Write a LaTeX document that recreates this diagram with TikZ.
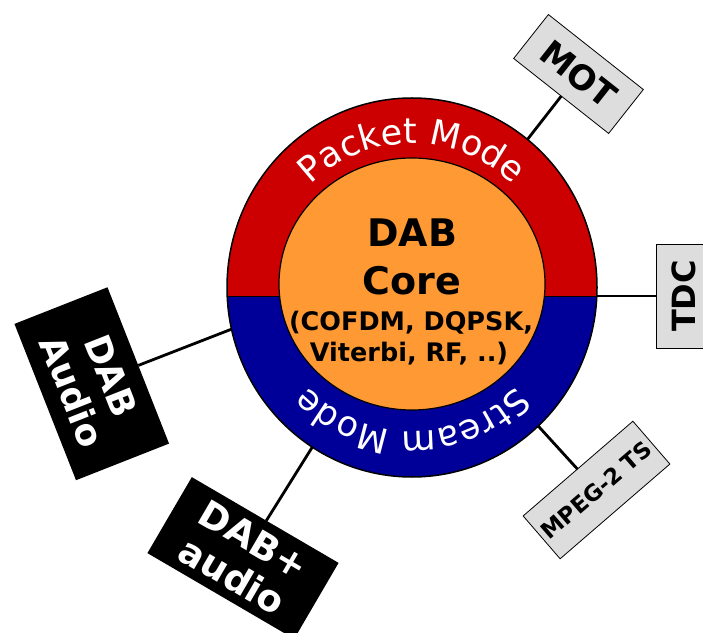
\documentclass[tikz,border=0pt]{standalone}
\usepackage{fontspec}
\setmainfont{DejaVu Sans}
\usetikzlibrary{shapes.geometric,decorations.text}
\definecolor{dabred}{HTML}{CC0000}
\definecolor{dabblue}{HTML}{000099}
\definecolor{dabor}{HTML}{FF9933}
\definecolor{boxgray}{HTML}{DDDDDD}
\begin{document}
\begin{tikzpicture}[x=1pt,y=1pt,
  graybox/.style={draw=black, line width=0.8pt, fill=boxgray, inner sep=0pt, outer sep=0pt, font=\bfseries\fontsize{34}{34}\selectfont},
  blackbox/.style={fill=black, text=white, inner sep=0pt, outer sep=0pt, align=center},
  conn/.style={draw=black, line width=2.8pt},
  coreline/.style={anchor=base, inner sep=0pt, font=\bfseries}]
\useasboundingbox (0,0) rectangle (703,632);
\clip (0,0) rectangle (703,632);
% ring fills
\fill[dabblue] (412,344.5) ellipse [x radius=185, y radius=189.5];
\begin{scope}
  \clip (0,336) rectangle (703,632);
  \fill[dabred] (412,344.5) ellipse [x radius=185, y radius=189.5];
\end{scope}
\draw[line width=0.8pt] (227.2,336) -- (596.8,336);
\node[ellipse, draw=black, line width=1.5pt, minimum width=370, minimum height=379, inner sep=0pt, outer sep=0pt] (ring) at (412,344.5) {};
\node[ellipse, draw=black, fill=dabor, line width=1.2pt, minimum width=266, minimum height=252, inner sep=0pt, outer sep=0pt] (core) at (412,348) {};
% arc texts
\path[decorate, decoration={text along path, text color=white, text align=center,
  text={|\fontsize{35}{35}\selectfont|Packet Mode}}]
  (412,344.5) ++(170:144) arc[start angle=170, end angle=10, radius=144];
\path[decorate, decoration={text along path, text color=white, text align=center,
  text={|\fontsize{35}{35}\selectfont|Stream Mode}}]
  (412,344.5) ++(-10:144) arc[start angle=-10, end angle=-170, radius=144];
% core text
\node[coreline, font=\bfseries\fontsize{38}{38}\selectfont] (l1) at (412,385) {DAB};
\node[coreline, font=\bfseries\fontsize{38}{38}\selectfont] (l2) at (412,337) {Core};
\node[coreline, font=\bfseries\fontsize{25.5}{25.5}\selectfont] (l3) at (411,301) {(COFDM, DQPSK,};
\node[coreline, font=\bfseries\fontsize{25.5}{25.5}\selectfont] (l4) at (409,270) {Viterbi, RF, ..)};
% boxes
\node[graybox, rotate=-38.3, minimum width=121, minimum height=56] (mot) at (578.5,558) {MOT};
\node[graybox, rotate=90, minimum width=104, minimum height=56, font=\bfseries\fontsize{32}{32}\selectfont] (tdc) at (684,336) {TDC};
\node[graybox, rotate=40.8, minimum width=145, minimum height=56.6, font=\bfseries\fontsize{22.5}{22.5}\selectfont] (mpeg) at (596.5,142) {MPEG-2 TS};
\node[blackbox, rotate=-68.5, minimum width=168, minimum height=100, font=\bfseries\fontsize{36}{42}\selectfont] (dabaudio) at (91.75,248.25) {DAB\\Audio};
\node[blackbox, rotate=-30.3, minimum width=170, minimum height=88, font=\bfseries\fontsize{37}{42}\selectfont] (dabplus) at (243,74) {DAB+\\audio};
% connectors
\draw[conn] (ring) -- (mot);
\draw[conn] (ring.east |- tdc) -- (tdc);
\draw[conn] (ring) -- (mpeg);
\draw[conn] (ring.193) -- (dabaudio.north);
\draw[conn] (ring) -- (dabplus);
\end{tikzpicture}
\end{document}
